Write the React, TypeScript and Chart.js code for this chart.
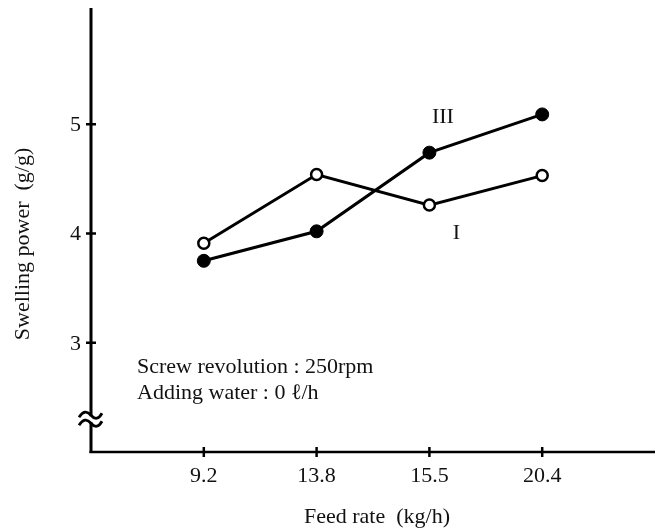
import React, { useEffect, useRef } from 'react';
import { Chart, registerables } from 'chart.js';

Chart.register(...registerables);

const feedRates = ['9.2', '13.8', '15.5', '20.4'];
const swellingI = [3.91, 4.54, 4.26, 4.53];
const swellingIII = [3.75, 4.02, 4.74, 5.09];
const yTickValues = [3, 4, 5];
const seriesNames = ['I', 'III'];
const noteLines = ['Screw revolution : 250rpm', 'Adding water : 0 \u2113/h'];
const xTitle = 'Feed rate  (kg/h)';
const yTitle = 'Swelling power  (g/g)';

const FONT = '"Liberation Serif", "Times New Roman", serif';

const decorPlugin = {
  id: 'decor',
  afterDraw(chart: any) {
    const { ctx, chartArea, scales } = chart;
    const xs = scales.x;
    const ys = scales.y;
    const x0 = xs.getPixelForValue(0);
    const xEnd = xs.getPixelForValue(5);
    const yb = ys.getPixelForValue(2);
    const yTop = chartArea.top;
    ctx.save();
    ctx.strokeStyle = '#000';
    ctx.fillStyle = '#111';
    ctx.lineCap = 'butt';
    // y axis
    ctx.lineWidth = 3;
    ctx.beginPath();
    ctx.moveTo(x0, yTop);
    ctx.lineTo(x0, yb + 1);
    ctx.stroke();
    // x axis
    ctx.lineWidth = 2.5;
    ctx.beginPath();
    ctx.moveTo(x0 - 1.5, yb);
    ctx.lineTo(xEnd, yb);
    ctx.stroke();

    ctx.font = '22px ' + FONT;
    // y ticks
    ctx.textAlign = 'right';
    ctx.textBaseline = 'middle';
    yTickValues.forEach((v) => {
      const py = ys.getPixelForValue(v);
      ctx.lineWidth = 2.5;
      ctx.beginPath();
      ctx.moveTo(x0 - 5, py);
      ctx.lineTo(x0 + 5, py);
      ctx.stroke();
      ctx.fillText(String(v), x0 - 10, py + 1);
    });
    // x ticks
    ctx.textAlign = 'center';
    ctx.textBaseline = 'middle';
    feedRates.forEach((lab, i) => {
      const px = xs.getPixelForValue(i + 1);
      ctx.lineWidth = 2.5;
      ctx.beginPath();
      ctx.moveTo(px, yb - 5);
      ctx.lineTo(px, yb + 5);
      ctx.stroke();
      ctx.fillText(lab, px, yb + 24);
    });

    // axis break
    const yc1 = ys.getPixelForValue(2.3) - 4;
    const yc2 = yc1 + 8;
    ctx.fillStyle = '#fff';
    ctx.fillRect(x0 - 4, yc1 + 1, 8, yc2 - yc1 - 2);
    ctx.strokeStyle = '#000';
    ctx.lineWidth = 2.8;
    [yc1, yc2].forEach((yc) => {
      ctx.beginPath();
      ctx.moveTo(x0 - 12, yc + 2);
      ctx.quadraticCurveTo(x0 - 6, yc - 7, x0, yc);
      ctx.quadraticCurveTo(x0 + 6, yc + 7, x0 + 11, yc - 2);
      ctx.stroke();
    });

    ctx.fillStyle = '#111';
    // axis titles
    ctx.textAlign = 'center';
    ctx.textBaseline = 'middle';
    ctx.fillText(xTitle, (x0 + xEnd) / 2 + 4, yb + 65);
    ctx.save();
    ctx.translate(23, 244);
    ctx.rotate(-Math.PI / 2);
    ctx.fillText(yTitle, 0, 0);
    ctx.restore();

    // series labels
    ctx.fillText(seriesNames[1], xs.getPixelForValue(3.12), ys.getPixelForValue(5.06));
    ctx.fillText(seriesNames[0], xs.getPixelForValue(3.24), ys.getPixelForValue(4.0));

    // notes
    ctx.textAlign = 'left';
    ctx.fillText(noteLines[0], 137, ys.getPixelForValue(2.78));
    ctx.fillText(noteLines[1], 137, ys.getPixelForValue(2.54));
    ctx.restore();
  },
};

export default function App() {
  const ref = useRef<HTMLCanvasElement>(null);
  useEffect(() => {
    const chart = new Chart(ref.current as HTMLCanvasElement, {
      type: 'line',
      data: {
        datasets: [
          {
            label: seriesNames[1],
            data: swellingIII.map((v, i) => ({ x: i + 1, y: v })),
            borderColor: '#000',
            borderWidth: 3,
            pointRadius: 6.5,
            pointBackgroundColor: '#000',
            pointBorderColor: '#000',
            pointBorderWidth: 1,
            clip: false,
          } as any,
          {
            label: seriesNames[0],
            data: swellingI.map((v, i) => ({ x: i + 1, y: v })),
            borderColor: '#000',
            borderWidth: 3,
            pointRadius: 5.5,
            pointBackgroundColor: '#fff',
            pointBorderColor: '#000',
            pointBorderWidth: 2.5,
            clip: false,
          } as any,
        ],
      },
      options: {
        responsive: false,
        animation: false,
        devicePixelRatio: 1,
        layout: { padding: { left: 91, right: 12, top: 5, bottom: 80 } },
        plugins: { legend: { display: false }, tooltip: { enabled: false } },
        scales: {
          x: { type: 'linear', min: 0, max: 5, display: false },
          y: { type: 'linear', min: 2, max: 6.064, display: false },
        },
      },
      plugins: [decorPlugin],
    });
    let alive = true;
    const fonts = (document as any).fonts;
    if (fonts && fonts.load) {
      fonts.load('22px "Liberation Serif"').then(() => {
        if (alive) chart.update();
      });
    }
    return () => {
      alive = false;
      chart.destroy();
    };
  }, []);
  return (
    <div style={{ position: 'absolute', left: 0, top: 0, width: 667, height: 532, background: '#fff' }}>
      <canvas ref={ref} width={667} height={532} style={{ display: 'block', width: 667, height: 532 }} />
    </div>
  );
}
